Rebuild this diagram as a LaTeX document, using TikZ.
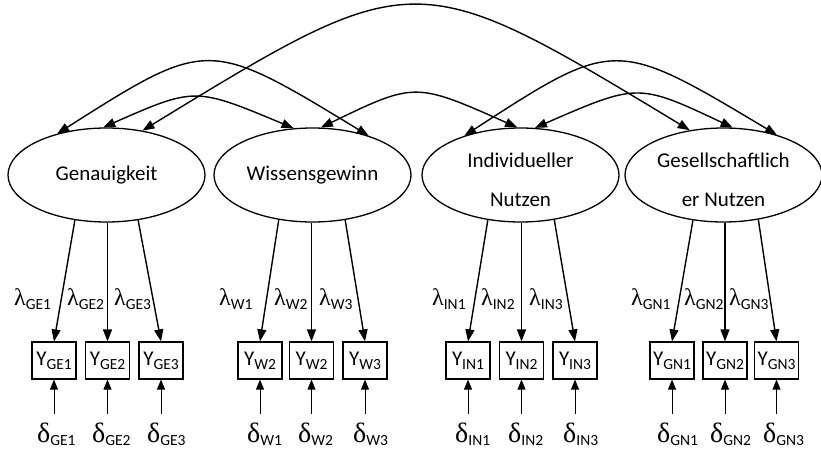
\documentclass[tikz,border=0pt]{standalone}
\usepackage{fontspec}
\setmainfont{Carlito}
\newfontfamily\greekfont{Liberation Serif}
\usetikzlibrary{arrows.meta,shapes.geometric}
\newcommand\lam[1]{{\fontsize{24}{24}\selectfont\greekfont λ}\raisebox{-4pt}{\fontsize{15.5}{15.5}\selectfont #1}}
\newcommand\del[1]{{\fontsize{28}{28}\selectfont\greekfont δ}\raisebox{-3pt}{\fontsize{15.5}{15.5}\selectfont #1}}
\newcommand\yv[1]{{\fontsize{21}{21}\selectfont Y}\raisebox{-4pt}{\fontsize{15.5}{15.5}\selectfont #1}}
\tikzset{
  latent/.style={ellipse, draw, line width=1.3pt, minimum width=197pt, minimum height=94pt, inner sep=0pt, font=\fontsize{21}{39}\selectfont, align=center},
  manifest/.style={rectangle, draw, line width=1.2pt, minimum width=44pt, minimum height=37pt, inner sep=0pt},
  cov/.style={{Triangle[length=12pt,width=9pt]}-{Triangle[length=12pt,width=9pt]}, line width=1.4pt},
  load/.style={-{Triangle[length=12pt,width=9pt]}, line width=1.4pt},
  err/.style={-{Triangle[length=10pt,width=8pt]}, line width=1pt},
  lbl/.style={inner sep=0pt, anchor=base west},
}
\begin{document}
\begin{tikzpicture}[x=1pt,y=-1pt]
\useasboundingbox (0,0) rectangle (821,452);
\begin{scope}
\clip (0,0) rectangle (821,452);
% latent variables
\node[latent] (G) at (106.5,175) {Genauigkeit};
\node[latent] (W) at (312.5,175) {Wissensgewinn};
\node[latent] (IN) at (520.5,175) {\rule{0pt}{24pt}Individueller\\Nutzen};
\node[latent] (GN) at (723.5,175) {\rule{0pt}{24pt}Gesellschaftlich\\er Nutzen};
\end{scope}
% manifest variables
\node[manifest] (y11) at (54,360.5) {\yv{GE1}};
\node[manifest] (y12) at (107.5,360.5) {\yv{GE2}};
\node[manifest] (y13) at (161,360.5) {\yv{GE3}};
\node[manifest] (y21) at (260,360.5) {\yv{W2}};
\node[manifest] (y22) at (311.5,360.5) {\yv{W2}};
\node[manifest] (y23) at (365,360.5) {\yv{W3}};
\node[manifest] (y31) at (468,360.5) {\yv{IN1}};
\node[manifest] (y32) at (521.5,360.5) {\yv{IN2}};
\node[manifest] (y33) at (575,360.5) {\yv{IN3}};
\node[manifest] (y41) at (672,360.5) {\yv{GN1}};
\node[manifest] (y42) at (725,360.5) {\yv{GN2}};
\node[manifest] (y43) at (776.5,360.5) {\yv{GN3}};
% loadings
\draw[load] (G.235) -- (y11.north);
\draw[load] (G.south -| y12.north) -- (y12.north);
\draw[load] (G.305) -- (y13.north);
\draw[load] (W.233) -- (y21.north);
\draw[load] (W.south -| y22.north) -- (y22.north);
\draw[load] (W.306) -- (y23.north);
\draw[load] (IN.234) -- (y31.north);
\draw[load] (IN.south -| y32.north) -- (y32.north);
\draw[load] (IN.307) -- (y33.north);
\draw[load] (GN.236) -- (y41.north);
\draw[load] (GN.south -| y42.north) -- (y42.north);
\draw[load] (GN.308) -- (y43.north);
% loading labels
\node[lbl] (l11) at (14,305) {\lam{GE1}};
\node[lbl] (l12) at (67,305) {\lam{GE2}};
\node[lbl] (l13) at (114,305) {\lam{GE3}};
\node[lbl] (l21) at (219,305) {\lam{W1}};
\node[lbl] (l22) at (274,305) {\lam{W2}};
\node[lbl] (l23) at (319,305) {\lam{W3}};
\node[lbl] (l31) at (432,305) {\lam{IN1}};
\node[lbl] (l32) at (481,305) {\lam{IN2}};
\node[lbl] (l33) at (529,305) {\lam{IN3}};
\node[lbl] (l41) at (631,305) {\lam{GN1}};
\node[lbl] (l42) at (684,305) {\lam{GN2}};
\node[lbl] (l43) at (729,305) {\lam{GN3}};
% error terms
\node[lbl] (d11) at (37,442) {\del{GE1}};
\node[lbl] (d12) at (92,442) {\del{GE2}};
\node[lbl] (d13) at (147,442) {\del{GE3}};
\node[lbl] (d21) at (247,442) {\del{W1}};
\node[lbl] (d22) at (298,442) {\del{W2}};
\node[lbl] (d23) at (353,442) {\del{W3}};
\node[lbl] (d31) at (455,442) {\del{IN1}};
\node[lbl] (d32) at (508,442) {\del{IN2}};
\node[lbl] (d33) at (563,442) {\del{IN3}};
\node[lbl] (d41) at (657,442) {\del{GN1}};
\node[lbl] (d42) at (710,442) {\del{GN2}};
\node[lbl] (d43) at (763,442) {\del{GN3}};
\foreach \i in {11,12,13,21,22,23,31,32,33,41,42,43}{
  \coordinate (e\i) at ([yshift=-34pt]y\i.south);
  \draw[err] (e\i) -- (y\i.south);
}
% covariances
\draw[cov] (G.140) .. controls (208,38) .. (W.35);
\draw[cov] (G.94) .. controls (195,87) .. (W.112);
\draw[cov] (G.51) .. controls (415,-36) .. (GN.127);
\draw[cov] (W.80) .. controls (415,82) .. (IN.94);
\draw[cov] (IN.145) .. controls (615,38) .. (GN.37);
\draw[cov] (IN.73) .. controls (638,83) .. (GN.79);
\end{tikzpicture}
\end{document}
